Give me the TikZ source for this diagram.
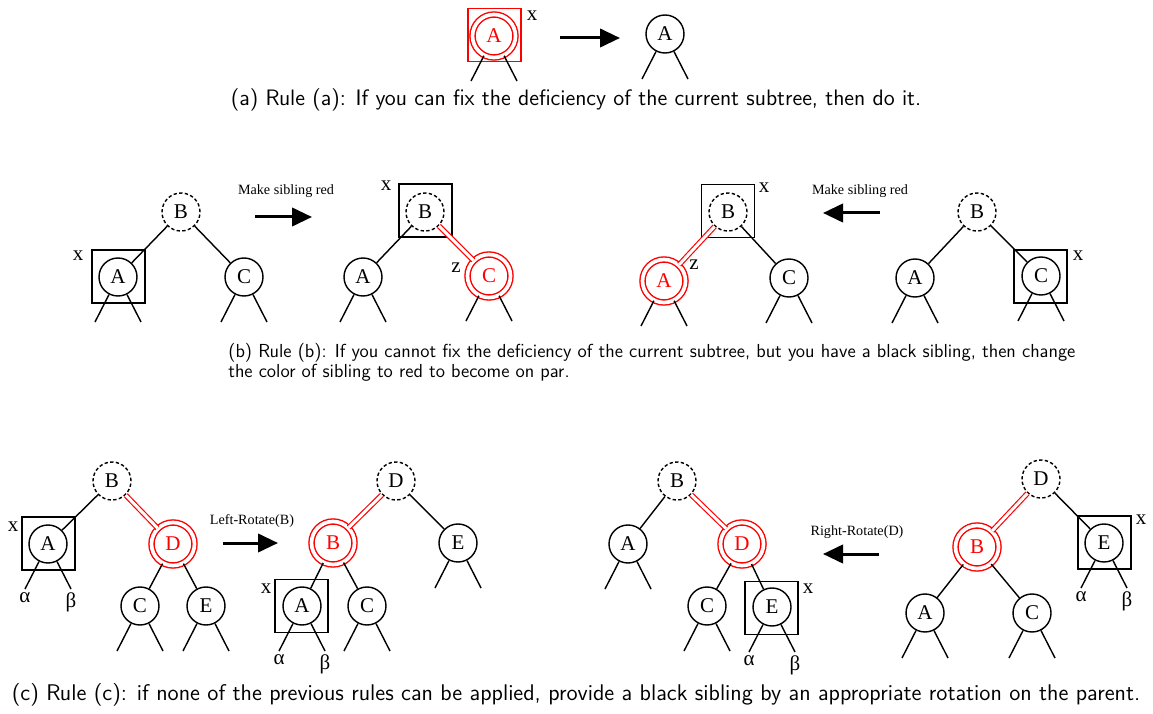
\documentclass[tikz,border=0pt]{standalone}
\usepackage{fontspec}
\setmainfont{Liberation Serif}
\usetikzlibrary{positioning, arrows.meta}

\tikzset{
  nd/.style={circle, draw, line width=0.85pt, minimum size=22.8pt, inner sep=0pt, font=\fontsize{12.6}{12.6}\selectfont},
  dnd/.style={nd, dash pattern=on 2pt off 1.4pt},
  rnd/.style={nd, draw=red, text=red, double, double distance=2.2pt, minimum size=25.8pt},
  xbox/.style={draw, line width=1.1pt, minimum size=31.8pt, inner sep=0pt},
  lbl/.style={font=\fontsize{12.6}{12.6}\selectfont, inner sep=0pt},
  op/.style={font=\fontsize{8.5}{9}\selectfont, inner sep=0pt},
  captxt/.style={font=\sffamily\fontsize{11}{12}\selectfont, inner sep=0pt},
  ln/.style={line width=0.85pt},
  rln/.style={draw=red, line width=0.7pt, double, double distance=1.8pt},
  bigarrow/.style={line width=1.8pt, -{Triangle[length=12pt, width=11pt]}}
}

\begin{document}
\begin{tikzpicture}[x=0.6pt, y=-0.6pt]
\useasboundingbox (0,0) rectangle (1153,714);

% ---------------- (a)
\node[rnd] (a1A) at (494,36) {A};
\node[xbox, draw=red] (a1x) at (494.5,35) {};
\node[lbl] (a1xl) at (532,16) {x};
\coordinate (a1s) at (560,38);
\coordinate (a1e) at (620,38);
\draw[bigarrow] (a1s) -- (a1e);
\node[nd] (a2A) at (665,34) {A};
\node[captxt, font=\sffamily\fontsize{13.4}{14}\selectfont] (capa) at (576,100) {(a) Rule (a): If you can fix the deficiency of the current subtree, then do it.};

% ---------------- (b)
\node[dnd] (b1B) at (181,212) {B};
\node[nd] (b1A) at (118,277) {A};
\node[nd] (b1C) at (244,277) {C};
\node[xbox] (b1x) at (118.5,276.5) {};
\node[lbl] (b1xl) at (78,256) {x};
\draw[ln] (b1B) -- (b1A);
\draw[ln] (b1B) -- (b1C);

\node[op] (b1op) at (286,191) {Make sibling red};
\coordinate (b1s) at (255,217);
\coordinate (b1e) at (312,217);
\draw[bigarrow] (b1s) -- (b1e);

\node[dnd] (b2B) at (425,212) {B};
\node[xbox] (b2x) at (425.5,210.5) {};
\node[lbl] (b2xl) at (386,186) {x};
\node[nd] (b2A) at (363,277) {A};
\node[rnd] (b2C) at (489,276) {C};
\node[lbl] (b2zl) at (456,268) {z};
\draw[ln] (b2B) -- (b2A);
\draw[rln] (b2B) -- (b2C);

\node[dnd] (b3B) at (728,212) {B};
\node[xbox] (b3x) at (728,211) {};
\node[lbl] (b3xl) at (764,188) {x};
\node[rnd] (b3A) at (664,281) {A};
\node[nd] (b3C) at (789,278) {C};
\node[lbl] (b3zl) at (694,265) {z};
\draw[rln] (b3B) -- (b3A);
\draw[ln] (b3B) -- (b3C);

\node[op] (b4op) at (860,191) {Make sibling red};
\coordinate (b4s) at (880,213);
\coordinate (b4e) at (823,213);
\draw[bigarrow] (b4s) -- (b4e);

\node[dnd] (b4B) at (977,212) {B};
\node[nd] (b4A) at (915,278) {A};
\node[nd] (b4C) at (1041,276) {C};
\node[xbox] (b4x) at (1040.5,276.5) {};
\node[lbl] (b4xl) at (1078,256) {x};
\draw[ln] (b4B) -- (b4A);
\draw[ln] (b4B) -- (b4C);

\node[captxt, font=\sffamily\fontsize{11.3}{12}\selectfont, anchor=west, align=left] (capb) at (228,362) {(b) Rule (b): If you cannot fix the deficiency of the current subtree, but you have a black sibling, then change\\the color of sibling to red to become on par.};

% ---------------- (c)
\node[dnd] (c1B) at (112,481) {B};
\node[nd] (c1A) at (48,544) {A};
\node[xbox] (c1x) at (48.5,543.5) {};
\node[lbl] (c1xl) at (13,527) {x};
\node[rnd] (c1D) at (173,544) {D};
\node[nd] (c1C) at (140,606) {C};
\node[nd] (c1E) at (206,606) {E};
\draw[ln] (c1B) -- (c1A);
\draw[rln] (c1B) -- (c1D);
\draw[ln] (c1D) -- (c1C);
\draw[ln] (c1D) -- (c1E);
\draw[ln] (c1A) -- +(-23,45) node[lbl, below=2pt] (c1al) {α};
\draw[ln] (c1A) -- +(23,45) node[lbl, below=2pt] (c1be) {β};

\node[op] (c1op) at (252,521) {Left-Rotate(B)};
\coordinate (c1s) at (223,543);
\coordinate (c1e) at (278,543);
\draw[bigarrow] (c1s) -- (c1e);

\node[dnd] (c2D) at (396,481) {D};
\node[rnd] (c2B) at (333,543) {B};
\node[nd] (c2E) at (458,543) {E};
\node[nd] (c2A) at (302,606) {A};
\node[xbox] (c2x) at (301.5,606) {};
\node[lbl] (c2xl) at (266,589) {x};
\node[nd] (c2C) at (367,606) {C};
\draw[rln] (c2D) -- (c2B);
\draw[ln] (c2D) -- (c2E);
\draw[ln] (c2B) -- (c2A);
\draw[ln] (c2B) -- (c2C);
\draw[ln] (c2A) -- +(-23,45) node[lbl, below=2pt] (c2al) {α};
\draw[ln] (c2A) -- +(23,45) node[lbl, below=2pt] (c2be) {β};

\node[dnd] (c3B) at (677,481) {B};
\node[nd] (c3A) at (628,544) {A};
\node[rnd] (c3D) at (742,544) {D};
\node[nd] (c3C) at (707,606) {C};
\node[nd] (c3E) at (772,607) {E};
\node[xbox] (c3x) at (771.5,608) {};
\node[lbl] (c3xl) at (808,589) {x};
\draw[ln] (c3B) -- (c3A);
\draw[rln] (c3B) -- (c3D);
\draw[ln] (c3D) -- (c3C);
\draw[ln] (c3D) -- (c3E);
\draw[ln] (c3E) -- +(-23,45) node[lbl, below=2pt] (c3al) {α};
\draw[ln] (c3E) -- +(23,45) node[lbl, below=2pt] (c3be) {β};

\node[op] (c4op) at (857,532) {Right-Rotate(D)};
\coordinate (c4s) at (879,554);
\coordinate (c4e) at (823,554);
\draw[bigarrow] (c4s) -- (c4e);

\node[dnd] (c4D) at (1041,479) {D};
\node[rnd] (c4B) at (977,547) {B};
\node[nd] (c4E) at (1104,543) {E};
\node[xbox] (c4x) at (1104.5,542.5) {};
\node[lbl] (c4xl) at (1141,520) {x};
\node[nd] (c4A) at (925,613) {A};
\node[nd] (c4C) at (1032,613) {C};
\draw[rln] (c4D) -- (c4B);
\draw[ln] (c4D) -- (c4E);
\draw[ln] (c4B) -- (c4A);
\draw[ln] (c4B) -- (c4C);
\draw[ln] (c4E) -- +(-23,45) node[lbl, below=2pt] (c4al) {α};
\draw[ln] (c4E) -- +(23,45) node[lbl, below=2pt] (c4be) {β};

\node[captxt, font=\sffamily\fontsize{13.6}{14}\selectfont] (capc) at (576,695) {(c) Rule (c): if none of the previous rules can be applied, provide a black sibling by an appropriate rotation on the parent.};

% leaf stubs
\foreach \n in {a1A, a2A, b1A, b1C, b2A, b2C, b3A, b3C, b4A, b4C,
                c1C, c1E, c2C, c2E, c3A, c3C, c4A, c4C} {
  \draw[ln] (\n) -- +(-23,45);
  \draw[ln] (\n) -- +(23,45);
}
\end{tikzpicture}
\end{document}
